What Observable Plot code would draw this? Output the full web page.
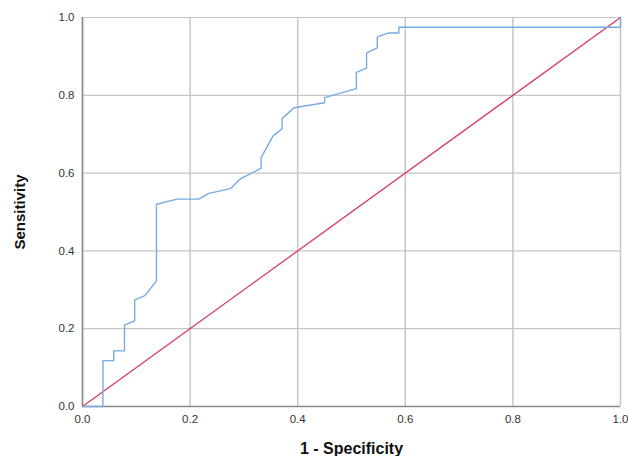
<!DOCTYPE html>
<html>
<head>
<meta charset="utf-8">
<script src="https://cdn.jsdelivr.net/npm/d3@7"></script>
<script src="https://cdn.jsdelivr.net/npm/@observablehq/plot@0.6"></script>
<style>
  html, body { margin: 0; padding: 0; background: #fff; }
  #chart svg { display: block; }
  #chart svg [aria-label="x-axis label"] text { font-weight: bold; font-size: 16px; fill: #111; }
  #chart svg [aria-label="y-axis label"] text { font-weight: bold; font-size: 15px; fill: #111; }
</style>
</head>
<body>
<div id="chart"></div>
<script>
// ROC curve (1 - Specificity, Sensitivity)
const fpr = [0, 0.038, 0.038, 0.058, 0.058, 0.078, 0.078, 0.097, 0.097, 0.116, 0.1375, 0.1375, 0.176, 0.216, 0.235, 0.275, 0.294, 0.332, 0.332, 0.354, 0.371, 0.371, 0.393, 0.450, 0.450, 0.509, 0.509, 0.528, 0.528, 0.548, 0.548, 0.568, 0.588, 0.588, 1.0, 1.0];
const tpr = [0, 0, 0.118, 0.118, 0.143, 0.143, 0.209, 0.22, 0.274, 0.285, 0.323, 0.52, 0.533, 0.533, 0.548, 0.56, 0.586, 0.612, 0.64, 0.695, 0.714, 0.74, 0.768, 0.781, 0.794, 0.817, 0.859, 0.87, 0.909, 0.922, 0.95, 0.96, 0.96, 0.975, 0.975, 1.0];
// Reference line
const refX = [0, 1];
const refY = [0, 1];
const ticks = [0, 0.2, 0.4, 0.6, 0.8, 1.0];
const xTitle = "1 - Specificity";
const yTitle = "Sensitivity";

const curve = fpr.map((x, i) => ({x, y: tpr[i]}));
const ref = refX.map((x, i) => ({x, y: refY[i]}));

const chart = Plot.plot({
  width: 628,
  height: 456,
  marginLeft: 82,
  marginRight: 8,
  marginTop: 17,
  marginBottom: 50,
  style: {fontFamily: "Liberation Sans, Arial, sans-serif", fontSize: "11.5px", color: "#333", background: "#fff"},
  x: {domain: [0, 1]},
  y: {domain: [0, 1]},
  marks: [
    Plot.gridX(ticks, {stroke: "#c6c6c6", strokeOpacity: 1, strokeWidth: 1.5}),
    Plot.gridY(ticks, {stroke: "#c6c6c6", strokeOpacity: 1, strokeWidth: 1.2}),
    Plot.axisX({ticks, tickSize: 0, tickPadding: 8, tickFormat: d3.format(".1f"), label: xTitle, labelAnchor: "center", labelOffset: 47, labelArrow: "none"}),
    Plot.axisY({ticks, tickSize: 0, tickPadding: 8, tickFormat: d3.format(".1f"), label: yTitle, labelAnchor: "center", labelOffset: 68, labelArrow: "none"}),
    Plot.ruleX([0], {stroke: "#888", strokeWidth: 1.5}),
    Plot.ruleY([0], {stroke: "#888", strokeWidth: 1.5}),
    Plot.line(ref, {x: "x", y: "y", stroke: "#d93a63", strokeWidth: 1.3}),
    Plot.line(curve, {x: "x", y: "y", stroke: "#78aae6", strokeWidth: 1.4})
  ]
});
document.getElementById("chart").appendChild(chart);
</script>
</body>
</html>
